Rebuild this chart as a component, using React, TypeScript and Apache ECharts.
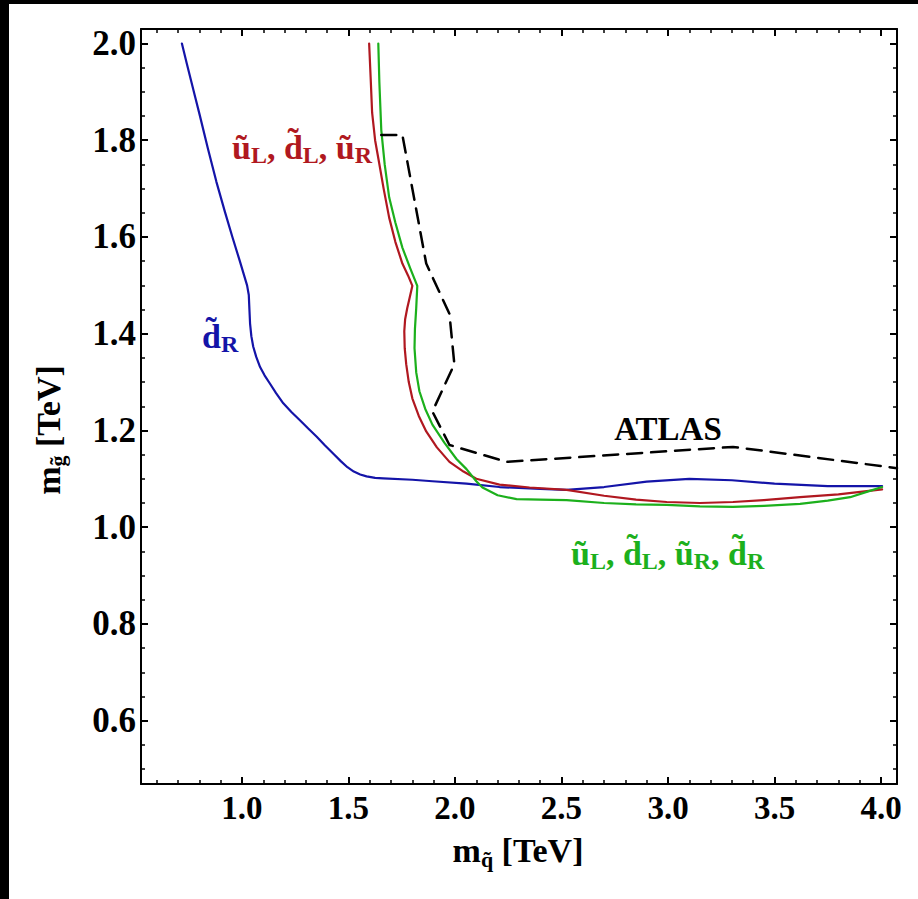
import React, { useEffect, useRef } from "react";
import * as echarts from "echarts";

// ---- tick values ----
const xMajor = [1.0, 1.5, 2.0, 2.5, 3.0, 3.5, 4.0];
const xMinor = [0.6, 0.7, 0.8, 0.9, 1.1, 1.2, 1.3, 1.4, 1.6, 1.7, 1.8, 1.9, 2.1, 2.2, 2.3, 2.4, 2.6, 2.7, 2.8, 2.9, 3.1, 3.2, 3.3, 3.4, 3.6, 3.7, 3.8, 3.9];
const yMajor = [0.6, 0.8, 1.0, 1.2, 1.4, 1.6, 1.8, 2.0];
const yMinor = [0.5, 0.55, 0.65, 0.7, 0.75, 0.85, 0.9, 0.95, 1.05, 1.1, 1.15, 1.25, 1.3, 1.35, 1.45, 1.5, 1.55, 1.65, 1.7, 1.75, 1.85, 1.9, 1.95];

// ---- curves (m_squark, m_gluino) in TeV ----
const dR: number[][] = [
  [0.718, 2.0], [0.74, 1.96], [0.76, 1.925], [0.78, 1.89], [0.80, 1.855], [0.84, 1.783], [0.88, 1.714], [0.92, 1.652],
  [0.955, 1.60], [0.99, 1.55], [1.024, 1.50], [1.032, 1.48], [1.035, 1.45], [1.038, 1.421], [1.044, 1.395], [1.053, 1.373],
  [1.067, 1.352], [1.085, 1.331], [1.106, 1.314], [1.131, 1.297], [1.16, 1.277], [1.194, 1.256], [1.232, 1.238],
  [1.272, 1.221], [1.311, 1.204], [1.351, 1.187], [1.39, 1.169], [1.429, 1.152], [1.465, 1.136], [1.495, 1.124],
  [1.525, 1.115], [1.555, 1.109], [1.585, 1.105], [1.625, 1.102], [1.663, 1.101], [1.80, 1.098], [1.894, 1.095],
  [2.054, 1.090], [2.209, 1.083], [2.40, 1.079], [2.524, 1.077], [2.70, 1.083], [2.90, 1.094], [3.10, 1.100],
  [3.30, 1.097], [3.50, 1.090], [3.75, 1.085], [4.005, 1.085],
];
const uLdLuR: number[][] = [
  [1.597, 2.0], [1.604, 1.93], [1.611, 1.857], [1.625, 1.80], [1.644, 1.753], [1.665, 1.70], [1.691, 1.64], [1.72, 1.59],
  [1.753, 1.545], [1.78, 1.52], [1.80, 1.499], [1.785, 1.47], [1.776, 1.453], [1.766, 1.43], [1.762, 1.405], [1.764, 1.37],
  [1.771, 1.337], [1.783, 1.30], [1.80, 1.266], [1.83, 1.23], [1.865, 1.198], [1.915, 1.165], [1.974, 1.135], [2.04, 1.115],
  [2.10, 1.10], [2.209, 1.088], [2.35, 1.082], [2.524, 1.077], [2.70, 1.065], [2.85, 1.057], [2.994, 1.052], [3.15, 1.050],
  [3.305, 1.052], [3.45, 1.056], [3.62, 1.062], [3.80, 1.068], [4.005, 1.078],
];
const allSquarks: number[][] = [
  [1.640, 2.0], [1.645, 1.92], [1.654, 1.821], [1.67, 1.75], [1.691, 1.682], [1.72, 1.63], [1.753, 1.578], [1.79, 1.535],
  [1.823, 1.499], [1.818, 1.453], [1.812, 1.41], [1.81, 1.37], [1.818, 1.32], [1.833, 1.281], [1.86, 1.245], [1.894, 1.212],
  [1.95, 1.175], [2.007, 1.141], [2.054, 1.12], [2.10, 1.095], [2.129, 1.082], [2.20, 1.066], [2.289, 1.058], [2.40, 1.057],
  [2.524, 1.056], [2.70, 1.050], [2.85, 1.047], [2.994, 1.046], [3.15, 1.043], [3.305, 1.042], [3.45, 1.044], [3.62, 1.048],
  [3.75, 1.055], [3.855, 1.062], [3.94, 1.074], [4.005, 1.083],
];
const atlas: number[][] = [
  [1.654, 1.811], [1.753, 1.811], [1.865, 1.545], [1.974, 1.441], [1.997, 1.337], [1.894, 1.239], [1.974, 1.17],
  [2.242, 1.135], [3.305, 1.166], [4.075, 1.122],
];

const X_MIN = 0.526, X_MAX = 4.075, Y_MIN = 0.469, Y_MAX = 2.03;
const FONT = "'Liberation Serif', 'Times New Roman', serif";
const BLUE = "#1414a8", RED = "#b01820", GREEN = "#1cb01c";

function richFor(color: string, size = 34, sub = 24) {
  return {
    m: { fontSize: size, fontWeight: "bold", fontFamily: FONT, fill: color, lineHeight: 40 },
    s: { fontSize: sub, fontWeight: "bold", fontFamily: FONT, fill: color, lineHeight: 24, verticalAlign: "bottom" },
  } as any;
}

export default function App() {
  const ref = useRef<HTMLDivElement>(null);
  useEffect(() => {
    const chart = echarts.init(ref.current!, null, { renderer: "svg" });
    const tickLabel = { fontWeight: "bold", fontFamily: FONT, color: "#000" };
    const frame = { show: true, lineStyle: { color: "#000", width: 2 } };
    const noLine = { show: false };
    const mkX = (pos: string, major: boolean, labels: boolean, line: boolean) => ({
      type: "value", position: pos, min: X_MIN, max: X_MAX, gridIndex: 0,
      axisLine: line ? frame : noLine,
      splitLine: { show: false },
      axisTick: { show: true, inside: true, length: major ? 7 : 4, customValues: major ? xMajor : xMinor, lineStyle: { color: "#000", width: major ? 2 : 1.5 } },
      axisLabel: labels ? { show: true, customValues: xMajor, formatter: (v: number) => v.toFixed(1), margin: 7, fontSize: 33, ...tickLabel } : { show: false },
    });
    const mkY = (pos: string, major: boolean, labels: boolean, line: boolean) => ({
      type: "value", position: pos, min: Y_MIN, max: Y_MAX, gridIndex: 0,
      axisLine: line ? frame : noLine,
      splitLine: { show: false },
      axisTick: { show: true, inside: true, length: major ? 7 : 4, customValues: major ? yMajor : yMinor, lineStyle: { color: "#000", width: major ? 2 : 1.5 } },
      axisLabel: labels ? { show: true, customValues: yMajor, formatter: (v: number) => v.toFixed(1), margin: 5, fontSize: 35, ...tickLabel } : { show: false },
    });
    const line = (name: string, data: number[][], color: string, dashed = false) => ({
      type: "line", name, data, xAxisIndex: 0, yAxisIndex: 0, showSymbol: false, symbol: "none", clip: true,
      lineStyle: { color, width: dashed ? 2.5 : 2.2, type: dashed ? [15, 9] : "solid", join: "round", cap: "round" },
      silent: true,
    });
    const option: any = {
      animation: false,
      backgroundColor: "#fff",
      grid: { left: 141, top: 29, width: 756, height: 755, containLabel: false },
      xAxis: [mkX("bottom", true, true, true), mkX("bottom", false, false, false), mkX("top", true, false, true), mkX("top", false, false, false)],
      yAxis: [mkY("left", true, true, true), mkY("left", false, false, false), mkY("right", true, false, true), mkY("right", false, false, false)],
      series: [
        line("d̃R", dR, BLUE),
        line("ũL, d̃L, ũR", uLdLuR, RED),
        line("ũL, d̃L, ũR, d̃R", allSquarks, GREEN),
        line("ATLAS", atlas, "#000", true),
      ],
      graphic: [
        { type: "rect", left: 0, top: 0, shape: { width: 918, height: 4 }, style: { fill: "#000" } },
        { type: "rect", left: 0, top: 0, shape: { width: 9, height: 899 }, style: { fill: "#000" } },
        { type: "text", x: 518, y: 850, style: { text: "{m|m}{s|q̃}{m| [TeV]}", rich: richFor("#000", 34, 22), align: "center", verticalAlign: "middle" } },
        { type: "text", x: 48, y: 430, rotation: Math.PI / 2, style: { text: "{m|m}{s|g̃}{m| [TeV]}", rich: richFor("#000", 34, 22), align: "center", verticalAlign: "middle" } },
        { type: "text", x: 202, y: 336, style: { text: "{m|d̃}{s|R}", rich: richFor(BLUE), align: "left", verticalAlign: "middle" } },
        { type: "text", x: 232, y: 147, style: { text: "{m|ũ}{s|L}{m|, d̃}{s|L}{m|, ũ}{s|R}", rich: richFor(RED), align: "left", verticalAlign: "middle" } },
        { type: "text", x: 668, y: 429, style: { text: "{m|ATLAS}", rich: richFor("#000", 33), align: "center", verticalAlign: "middle" } },
        { type: "text", x: 571, y: 553, style: { text: "{m|ũ}{s|L}{m|, d̃}{s|L}{m|, ũ}{s|R}{m|, d̃}{s|R}", rich: richFor(GREEN), align: "left", verticalAlign: "middle" } },
      ],
    };
    chart.setOption(option);
    return () => chart.dispose();
  }, []);
  return <div ref={ref} style={{ position: "fixed", left: 0, top: 0, width: 918, height: 899, background: "#fff" }} />;
}
